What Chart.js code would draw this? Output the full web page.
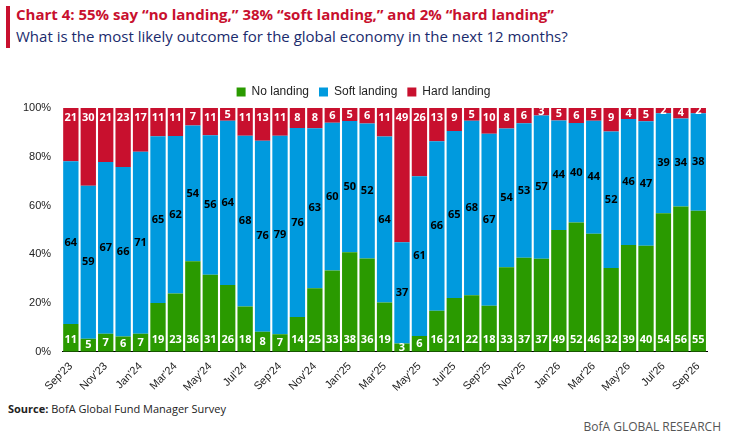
<!DOCTYPE html>
<html>
<head>
<meta charset="utf-8">
<script src="https://cdn.jsdelivr.net/npm/chart.js@4"></script>
<style>
  body { margin: 0; background: #fff; font-family: "Open Sans", "Liberation Sans", sans-serif; }
  #wrap { position: relative; width: 731px; height: 438px; }
  .bar { position: absolute; left: 6px; top: 6px; width: 4px; height: 42px; background: #c8102e; }
  .t1 { position: absolute; left: 16px; top: 4px; font-size: 15px; font-weight: bold; color: #c8102e; }
  .t2 { position: absolute; left: 16px; top: 26px; font-size: 15px; color: #1a2b6d; }
  .src { position: absolute; left: 8px; top: 401px; font-size: 11px; color: #222; }
  .brand { position: absolute; right: 10px; top: 418px; font-size: 12px; color: #555; }
  #chartBox { position: absolute; left: 0; top: 76px; width: 731px; height: 318px; }
</style>
</head>
<body>
<div id="wrap">
  <div class="bar"></div>
  <div class="t1">Chart 4: 55% say “no landing,” 38% “soft landing,” and 2% “hard landing”</div>
  <div class="t2">What is the most likely outcome for the global economy in the next 12 months?</div>
  <div id="chartBox"><canvas id="chart"></canvas></div>
  <div class="src"><b>Source:</b> BofA Global Fund Manager Survey</div>
  <div class="brand">BofA GLOBAL RESEARCH</div>
</div>
<script>
const months = ["Sep'23","Oct'23","Nov'23","Dec'23","Jan'24","Feb'24","Mar'24","Apr'24","May'24","Jun'24","Jul'24","Aug'24",
  "Sep'24","Oct'24","Nov'24","Dec'24","Jan'25","Feb'25","Mar'25","Apr'25","May'25","Jun'25","Jul'25","Aug'25",
  "Sep'25","Oct'25","Nov'25","Dec'25","Jan'26","Feb'26","Mar'26","Apr'26","May'26","Jun'26","Jul'26","Aug'26","Sep'26"];
const noLanding = [11,5,7,6,7,19,23,36,31,26,18,8,7,14,25,33,38,36,19,3,6,16,21,22,18,33,37,37,49,52,46,32,39,40,54,56,55];
const softLanding = [64,59,67,66,71,65,62,54,56,64,68,76,79,76,63,60,50,52,64,37,61,66,65,68,67,54,53,57,44,40,44,52,46,47,39,34,38];
const hardLanding = [21,30,21,23,17,11,11,7,11,5,11,13,11,8,8,6,5,6,11,49,26,13,9,5,10,8,6,3,5,6,5,9,4,5,2,4,2];
const yTicks = [0,20,40,60,80,100];

const COLORS = { green: '#2a9a00', blue: '#009ade', red: '#c8102e' };

// the chart stacks the shares to a full 100% column
const totals = months.map((m, i) => noLanding[i] + softLanding[i] + hardLanding[i]);
const share = arr => arr.map((v, i) => v / totals[i] * 100);
const rawValues = [noLanding, softLanding, hardLanding];

// draws the survey value inside each segment
const segmentLabels = {
  id: 'segmentLabels',
  afterDatasetsDraw(chart) {
    const ctx = chart.ctx;
    ctx.save();
    ctx.font = 'bold 11px "Open Sans", sans-serif';
    ctx.textAlign = 'center';
    ctx.textBaseline = 'middle';
    chart.data.datasets.forEach((ds, i) => {
      chart.getDatasetMeta(i).data.forEach((bar, j) => {
        const top = Math.min(bar.y, bar.base), bottom = Math.max(bar.y, bar.base);
        let y = (top + bottom) / 2;
        if (i === 0) y = Math.max(y, bottom - 12);
        if (i === 2) y = Math.min(y, top + 10);
        ctx.fillStyle = i === 1 ? '#000' : '#fff';
        ctx.fillText(rawValues[i][j], bar.x, y);
      });
    });
    ctx.restore();
  }
};

new Chart(document.getElementById('chart'), {
  type: 'bar',
  data: {
    labels: months,
    datasets: [
      { label: 'No landing', data: share(noLanding), backgroundColor: COLORS.green },
      { label: 'Soft landing', data: share(softLanding), backgroundColor: COLORS.blue },
      { label: 'Hard landing', data: share(hardLanding), backgroundColor: COLORS.red }
    ]
  },
  options: {
    responsive: true,
    maintainAspectRatio: false,
    animation: false,
    layout: { padding: { left: 20, right: 24 } },
    datasets: { bar: { categoryPercentage: 1, barPercentage: 0.88 } },
    plugins: {
      legend: {
        position: 'top',
        labels: { boxWidth: 9, boxHeight: 9, font: { size: 12 }, color: '#222', padding: 10 }
      },
      tooltip: { enabled: false }
    },
    scales: {
      x: {
        stacked: true,
        grid: { display: false },
        border: { color: '#000' },
        ticks: {
          autoSkip: false,
          maxRotation: 45, minRotation: 45,
          color: '#222', font: { size: 11 }, padding: 0,
          callback: (v, i) => i % 2 === 0 ? months[i] : ''
        }
      },
      y: {
        stacked: true,
        min: 0, max: 100,
        grid: { display: false },
        border: { display: false },
        afterBuildTicks: axis => { axis.ticks = yTicks.map(v => ({ value: v })); },
        ticks: { color: '#222', font: { size: 11 }, callback: v => v + '%' }
      }
    }
  },
  plugins: [segmentLabels]
});
</script>
</body>
</html>
